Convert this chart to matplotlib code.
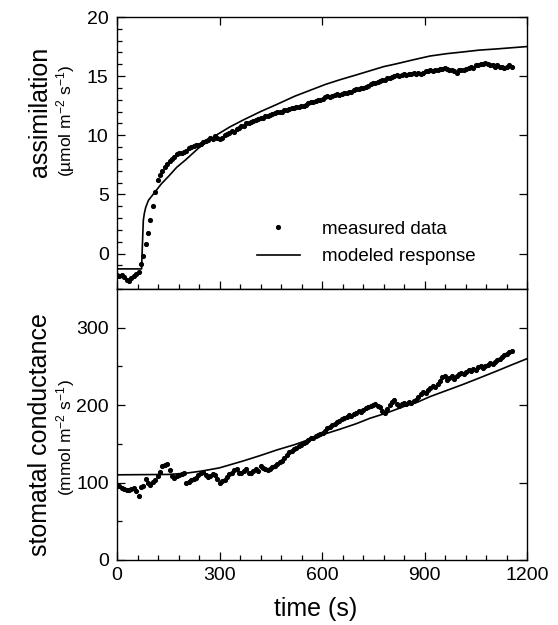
import numpy as np
from matplotlib import pyplot as plt
from matplotlib.ticker import MultipleLocator

plt.rcParams['font.family'] = ['Liberation Sans', 'DejaVu Sans']
plt.rcParams['mathtext.fontset'] = 'custom'
plt.rcParams['mathtext.rm'] = 'Liberation Sans'
plt.rcParams['mathtext.it'] = 'Liberation Sans'

# measured points, one every 7 s
step_s = 7
assim_measured = [
    -1.8, -1.9, -1.8, -2.0, -2.2, -2.3, -2.1, -1.9, -1.7, -1.6,
    -0.9, -0.2, 0.8, 1.7, 2.8, 4.0, 5.2, 6.2, 6.6, 7.0,
    7.3, 7.6, 7.8, 8.0, 8.2, 8.4, 8.5, 8.5, 8.6, 8.7,
    8.9, 9.0, 9.1, 9.2, 9.2, 9.3, 9.4, 9.5, 9.6, 9.8,
    9.7, 9.9, 9.8, 9.7, 9.8, 10.0, 10.1, 10.2, 10.4, 10.3,
    10.5, 10.6, 10.8, 10.8, 11.0, 11.0, 11.1, 11.2, 11.3, 11.4,
    11.5, 11.5, 11.6, 11.6, 11.7, 11.8, 11.9, 12.0, 12.0, 12.0,
    12.1, 12.1, 12.2, 12.3, 12.3, 12.4, 12.4, 12.5, 12.5, 12.6,
    12.7, 12.8, 12.8, 12.9, 13.0, 13.0, 13.1, 13.2, 13.3, 13.2,
    13.3, 13.4, 13.5, 13.4, 13.5, 13.6, 13.6, 13.7, 13.7, 13.8,
    13.9, 13.9, 14.0, 14.0, 14.1, 14.2, 14.3, 14.4, 14.4, 14.5,
    14.6, 14.7, 14.7, 14.8, 14.8, 14.9, 15.0, 15.1, 15.0, 15.1,
    15.2, 15.1, 15.2, 15.2, 15.3, 15.2, 15.3, 15.2, 15.3, 15.4,
    15.4, 15.5, 15.4, 15.5, 15.5, 15.6, 15.6, 15.7, 15.6, 15.5,
    15.5, 15.4, 15.3, 15.5, 15.5, 15.5, 15.6, 15.7, 15.8, 15.7,
    15.9, 15.9, 16.0, 16.0, 16.1, 16.0, 15.9, 15.9, 15.8, 15.9,
    15.8, 15.8, 15.7, 15.8, 15.9, 15.8,
]
gs_measured = [
    95, 96, 93, 92, 91, 90, 92, 93, 89, 83,
    94, 96, 105, 99, 97, 101, 103, 109, 114, 121,
    123, 124, 116, 109, 106, 108, 110, 111, 112, 99,
    101, 103, 105, 106, 110, 112, 114, 110, 107, 108,
    111, 110, 104, 100, 102, 103, 107, 111, 113, 116,
    118, 113, 112, 115, 117, 113, 112, 115, 117, 115,
    121, 119, 118, 116, 118, 120, 122, 124, 126, 128,
    132, 136, 139, 141, 143, 145, 147, 149, 151, 152,
    155, 157, 158, 160, 162, 163, 164, 167, 170, 172,
    174, 176, 178, 180, 182, 183, 185, 187, 186, 189,
    190, 192, 191, 194, 196, 197, 199, 200, 202, 199,
    197, 193, 190, 195, 200, 204, 207, 202, 199, 201,
    203, 202, 204, 203, 205, 207, 211, 214, 217, 216,
    219, 222, 225, 223, 227, 231, 236, 238, 233, 235,
    237, 234, 238, 240, 242, 240, 243, 245, 244, 247,
    246, 249, 251, 248, 250, 252, 254, 253, 256, 258,
    260, 262, 265, 266, 268, 270,
]

assim_model_t = [0, 72, 74, 77, 80, 84, 92, 111, 130, 150, 175, 200, 238, 287, 330,
                 370, 420, 467, 520, 565, 610, 653, 700, 740, 780, 819, 870, 916,
                 965, 1014, 1060, 1111, 1155, 1200]
assim_model = [-1.3, -1.3, 0.5, 2.8, 3.4, 3.9, 4.5, 5.2, 5.9, 6.5, 7.3, 7.9, 8.9, 9.95,
               10.7, 11.3, 12.0, 12.6, 13.3, 13.8, 14.3, 14.7, 15.1, 15.45, 15.8, 16.05,
               16.4, 16.7, 16.9, 17.05, 17.2, 17.3, 17.4, 17.5]
gs_model_t = [0, 150, 200, 250, 300, 370, 420, 467, 520, 565, 610, 653, 700, 740, 790,
              838, 880, 916, 965, 1014, 1060, 1111, 1155, 1200]
gs_model = [110, 110.5, 112, 115, 119, 128, 135, 142, 149, 156, 163, 169, 176, 183, 190,
            198, 204, 211, 219, 227, 235, 244, 252, 260]

t_assim = np.arange(len(assim_measured)) * step_s
t_gs = np.arange(len(gs_measured)) * step_s

fig = plt.figure(figsize=(5.58, 6.25), dpi=100)
ax1 = fig.add_axes([0.2097, 0.5376, 0.7348, 0.4352])
ax2 = fig.add_axes([0.2097, 0.104, 0.7348, 0.4336])

ax1.plot(t_assim, assim_measured, 'o', color='black', ms=2.7, label='measured data')
ax1.plot(assim_model_t, assim_model, '-', color='black', lw=1.2, label='modeled response')
ax2.plot(t_gs, gs_measured, 'o', color='black', ms=2.7)
ax2.plot(gs_model_t, gs_model, '-', color='black', lw=1.2)

ax1.set_ylim(-3, 20)
ax2.set_ylim(0, 350)
ax1.yaxis.set_major_locator(MultipleLocator(5))
ax1.yaxis.set_minor_locator(MultipleLocator(1))
ax2.yaxis.set_major_locator(MultipleLocator(100))
ax2.yaxis.set_minor_locator(MultipleLocator(50))

for ax in (ax1, ax2):
    ax.set_xlim(0, 1200)
    ax.xaxis.set_major_locator(MultipleLocator(300))
    ax.xaxis.set_minor_locator(MultipleLocator(60))
    ax.tick_params(which='both', direction='in', labelsize=14, width=0.9)
    ax.tick_params(which='major', length=6, top=True, right=True, pad=6)
    ax.tick_params(which='minor', length=3.5)
    for s in ax.spines.values():
        s.set_linewidth(1.0)
ax1.tick_params(axis='x', labelbottom=False)
ax2.tick_params(axis='x', which='major', top=False, pad=5)

ax1.legend(loc='center left', bbox_to_anchor=(0.341, 0.169), frameon=False,
           fontsize=13.5, handlelength=2.3, handletextpad=1.15, numpoints=1,
           borderpad=0, borderaxespad=0, labelspacing=0.55)

fig.text(316 / 558, 1 - 609 / 625, 'time (s)', fontsize=18, ha='center', va='center')
fig.text(40 / 558, 1 - 112 / 625, 'assimilation', fontsize=18, rotation=90,
         ha='center', va='center')
fig.text(66 / 558, 1 - 121 / 625, r'(µmol m$^{-2}$ s$^{-1}$)', fontsize=12.5,
         rotation=90, ha='center', va='center')
fig.text(40 / 558, 1 - 435 / 625, 'stomatal conductance', fontsize=18, rotation=90,
         ha='center', va='center')
fig.text(66 / 558, 1 - 438 / 625, r'(mmol m$^{-2}$ s$^{-1}$)', fontsize=12.5,
         rotation=90, ha='center', va='center')

fig.savefig('out.png', dpi=100)
